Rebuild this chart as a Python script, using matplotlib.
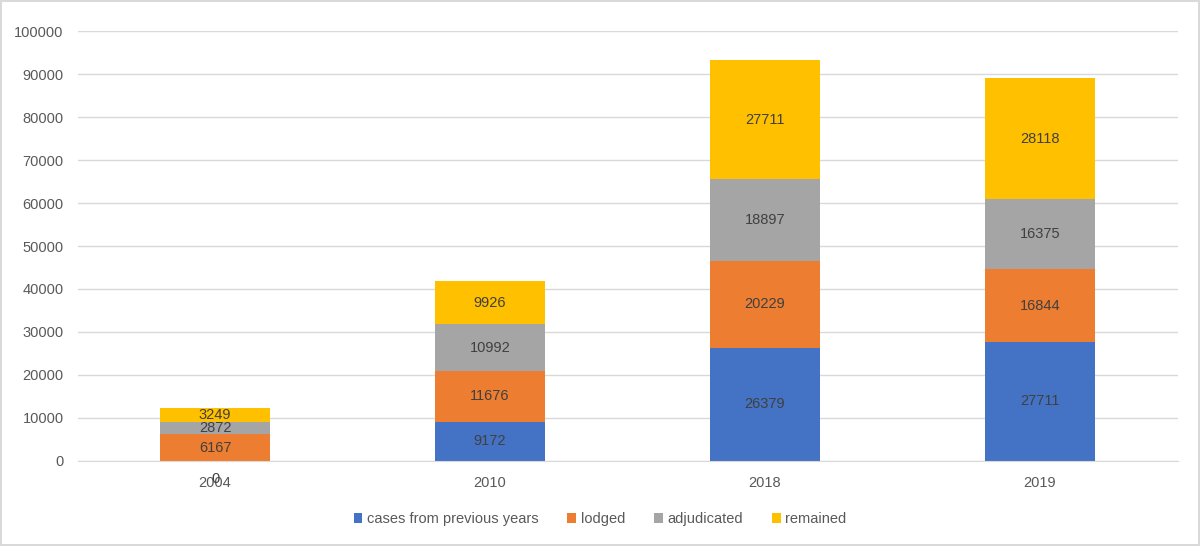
import matplotlib.pyplot as plt
import numpy as np

# chart data
years = ["2004", "2010", "2018", "2019"]
previous = [0, 9172, 26379, 27711]
lodged = [6167, 11676, 20229, 16844]
adjudicated = [2872, 10992, 18897, 16375]
remained = [3249, 9926, 27711, 28118]

series = [
    ("cases from previous years", previous, "#4472C4"),
    ("lodged", lodged, "#ED7D31"),
    ("adjudicated", adjudicated, "#A5A5A5"),
    ("remained", remained, "#FFC000"),
]

plt.rcParams['font.family'] = ['Liberation Sans', 'DejaVu Sans']

fig = plt.figure(figsize=(12, 5.46), dpi=100, linewidth=1.5, edgecolor='#D9D9D9')
ax = fig.add_axes([0.0646, 0.1557, 0.9167, 0.7875])

x = np.arange(len(years))
bottom = np.zeros(len(years))
for name, vals, color in series:
    vals = np.array(vals)
    ax.bar(x, vals, 0.4, bottom=bottom, color=color, label=name, zorder=2)
    for xi, b, v in zip(x, bottom, vals):
        if v == 0:
            # zero-height segment: Excel drops its label onto the category axis
            ax.annotate(str(v), (xi, b), xytext=(0, -13), textcoords='offset points',
                        ha='center', va='center', fontsize=10.5, color='#404040')
        else:
            ax.text(xi, b + v / 2, str(v), ha='center', va='center',
                    fontsize=10.5, color='#404040', zorder=3)
    bottom = bottom + vals

ax.set_xlim(-0.5, 3.5)
ax.set_ylim(0, 100000)
ax.set_yticks(range(0, 100001, 10000))
ax.set_xticks(x)
ax.set_xticklabels(years)
ax.tick_params(axis='both', length=0, labelsize=10.5, labelcolor='#595959')
ax.tick_params(axis='x', pad=11)
ax.tick_params(axis='y', pad=10)
ax.grid(axis='y', color='#D9D9D9', linewidth=1, zorder=0)
for side in ['top', 'right', 'left']:
    ax.spines[side].set_visible(False)
ax.spines['bottom'].set_color('#D9D9D9')

fig.legend(loc='center', bbox_to_anchor=(0.5, 0.049), ncol=4, frameon=False,
           fontsize=10.5, handlelength=0.6, handleheight=0.6, columnspacing=2.0,
           handletextpad=0.3, labelcolor='#595959')

plt.savefig("out.png", dpi=100)
